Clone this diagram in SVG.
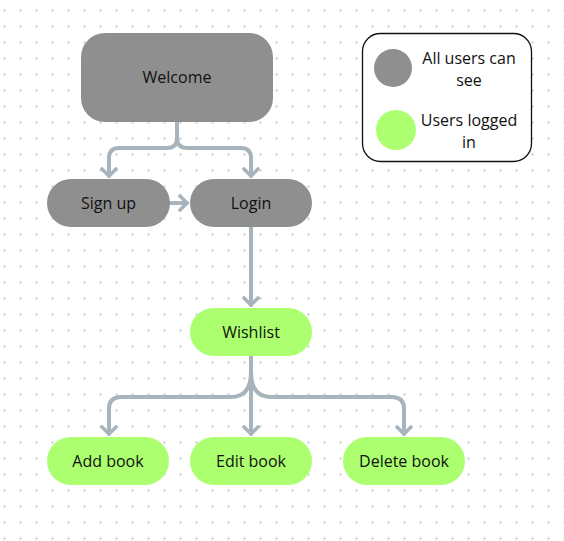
<svg xmlns="http://www.w3.org/2000/svg" width="564" height="541" viewBox="0 0 564 541">
<defs>
<pattern id="dots" x="3.5" y="9.5" width="16" height="16" patternUnits="userSpaceOnUse">
<rect x="0" y="0" width="2" height="2" fill="#c8c8c8"/>
</pattern>
<marker id="arr" viewBox="0 0 12 18" refX="10" refY="9" markerWidth="12" markerHeight="18" markerUnits="userSpaceOnUse" orient="auto">
<path d="M3,2 L10,9 L3,16" fill="none" stroke="#a7b4bc" stroke-width="3.6" stroke-linecap="round" stroke-linejoin="round"/>
</marker>
<style>
.gray{fill:#8f8f8f}
.green{fill:#acff6e}
.t{font-family:"Open Sans","Noto Sans","Liberation Sans",sans-serif;font-size:16px;fill:#111;text-anchor:middle}
.c{fill:none;stroke:#a7b4bc;stroke-width:4;stroke-linecap:round;stroke-linejoin:round}
</style>
</defs>
<rect width="564" height="541" fill="#fff"/>
<rect width="564" height="541" fill="url(#dots)"/>

<g id="connectors">
<path class="c" d="M177,122 V138 Q177,148 167,148 H119 Q109,148 109,158 V176" marker-end="url(#arr)"/>
<path class="c" d="M177,122 V138 Q177,148 187,148 H241 Q251,148 251,158 V176" marker-end="url(#arr)"/>
<path class="c" d="M171,203 H187" marker-end="url(#arr)"/>
<path class="c" d="M251,227 V305" marker-end="url(#arr)"/>
<path class="c" d="M251,356 V434" marker-end="url(#arr)"/>
<path class="c" d="M251,372 Q251,397 231,397 H121 Q109,397 109,409 V434" marker-end="url(#arr)"/>
<path class="c" d="M251,372 Q251,397 271,397 H392 Q404,397 404,409 V434" marker-end="url(#arr)"/>
</g>

<g id="welcome"><rect class="gray" x="81" y="33" width="192" height="89" rx="24"/><text class="t" x="177" y="83">Welcome</text></g>
<g id="signup"><rect class="gray" x="47" y="179" width="123" height="48" rx="24"/><text class="t" x="108.5" y="209">Sign up</text></g>
<g id="login"><rect class="gray" x="190" y="179" width="122" height="48" rx="24"/><text class="t" x="251" y="209">Login</text></g>
<g id="wishlist"><rect class="green" x="190" y="308" width="122" height="48" rx="24"/><text class="t" x="251" y="338">Wishlist</text></g>
<g id="addbook"><rect class="green" x="47" y="437" width="122" height="48" rx="24"/><text class="t" x="108" y="467">Add book</text></g>
<g id="editbook"><rect class="green" x="190" y="437" width="122" height="48" rx="24"/><text class="t" x="251" y="467">Edit book</text></g>
<g id="deletebook"><rect class="green" x="343" y="437" width="122" height="48" rx="24"/><text class="t" x="404" y="467">Delete book</text></g>

<g id="legend">
<rect x="362.5" y="33.5" width="169" height="128" rx="18" fill="#fff" stroke="#111" stroke-width="1.3"/>
<circle class="gray" cx="393" cy="68" r="19"/>
<circle class="green" cx="396" cy="130" r="20"/>
<text class="t" x="469" y="64">All users can</text>
<text class="t" x="469" y="86">see</text>
<text class="t" x="469" y="126">Users logged</text>
<text class="t" x="469" y="148">in</text>
</g>
</svg>
